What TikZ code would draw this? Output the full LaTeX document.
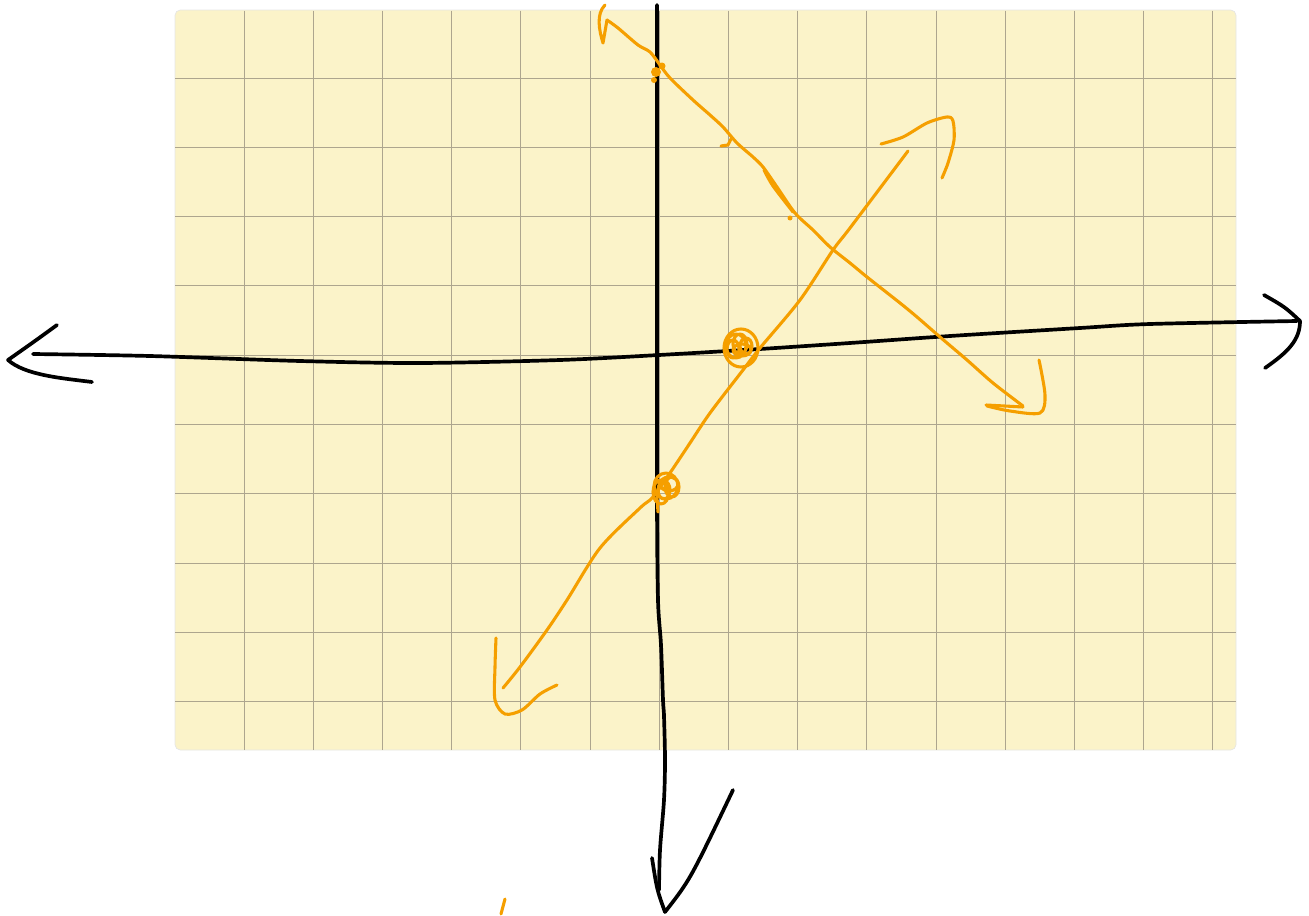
\documentclass[tikz,border=0pt]{standalone}
\usepackage{xcolor}
\usepackage{tikz}
\definecolor{paper}{HTML}{FBF3C9}
\definecolor{ruling}{HTML}{ADA58E}
\definecolor{pen}{HTML}{F59F00}

\begin{document}
\begin{tikzpicture}[x=0.02cm, y=-0.02cm, axis/.style={line width=2.1pt, line cap=round, line join=round}, graph/.style={pen, line width=1.75pt, line cap=round, line join=round}, rule/.style={ruling, line width=0.5pt}]
      \useasboundingbox (0,0) rectangle (1309,916);
      % grid paper
      \filldraw[fill=paper, draw=gray!20, line width=0.4pt, rounded corners=3pt] (175,10) rectangle (1236,750);
      \foreach \i in {0,...,14} \draw[rule] ({244+69.2*\i},10.5) -- ({244+69.2*\i},749.5);
      \foreach \j in {0,...,9} \draw[rule] (175,{78+69.3*\j}) -- (1236,{78+69.3*\j});
      % axes
      \draw[axis] plot[smooth] coordinates {(33,354) (150,356) (300,361) (420,363) (560,360) (659,355) (760,349) (850,343) (950,336) (1080,328) (1150,324) (1297,321)};
      \draw[axis] (1264,295) .. controls (1285,307) .. (1300,321) .. controls (1300,340) and (1288,352) .. (1265,368);
      \draw[axis] (57,325) .. controls (35,341) .. (8,360) .. controls (25,375) and (60,378) .. (92,382);
      \draw[axis] plot[smooth] coordinates {(657,5) (657,300) (657,500) (658,600) (661,645) (663,700) (664,716) (665,760) (664,800) (660,850) (659,890)};
      \draw[axis] (652,858) .. controls (657,890) .. (665,912) .. controls (690,880) .. (733,790);
      % decreasing line
      \draw[graph] (605,5) .. controls (596,14) and (599,30) .. (603,43) -- (607,20);
      \draw[graph] plot[smooth] coordinates {(607,20) (618,28) (638,45) (650,52) (660,65) (670,78) (693,100) (710,115) (723,127) (737,143) (753,157) (763,167) (777,187) (795,213) (813,230) (830,247) (850,263) (867,277) (900,303) (917,317) (940,337) (967,360) (993,383) (1023,406)};
      \draw[graph] (986,405) -- (1023,407);
      \draw[graph] plot[smooth] coordinates {(987,406) (1010,411) (1040,413) (1045,395) (1039,360)};
      \draw[graph] plot[smooth] coordinates {(764,170) (773,186) (793,212)};
      \draw[graph] (721,146) -- (728,145) -- (731,139);
      \fill[pen] (790,218) circle (2.5);
      \fill[pen] (656,72) circle (5) (654,80) circle (3) (662,66) circle (3.5);
      % increasing line
      \draw[graph] plot[smooth] coordinates {(503,688) (520,667) (547,630) (567,600) (600,548) (640,508) (653,497) (672,470) (690,443) (710,413) (743,370) (760,348) (800,300) (833,250) (850,228) (908,151)};
      \draw[graph] plot[smooth] coordinates {(881,144) (903,137) (927,123) (947,117) (953,121) (954,140) (948,163) (942,178)};
      \draw[graph] plot[smooth] coordinates {(496,638) (495,667) (495,700) (505,714) (522,710) (540,694) (557,685)};
      % marked points
      \draw[graph] (741,348) ellipse (17 and 19);
      \draw[graph] (736,346) ellipse (10 and 12) (740,344) ellipse (7 and 10) (746,346) ellipse (6 and 8) (733,349) ellipse (6 and 9) (742,350) ellipse (9 and 6);
      \draw[graph] (666,486) ellipse (12 and 13) (661,492) ellipse (8 and 12) (669,484) ellipse (9 and 7) (664,490) ellipse (6 and 9) (672,487) ellipse (7 and 10);
      \draw[graph] (657,497) -- (658,512);
      \draw[graph] (505,899) -- (501,914);
    \end{tikzpicture}
\end{document}
